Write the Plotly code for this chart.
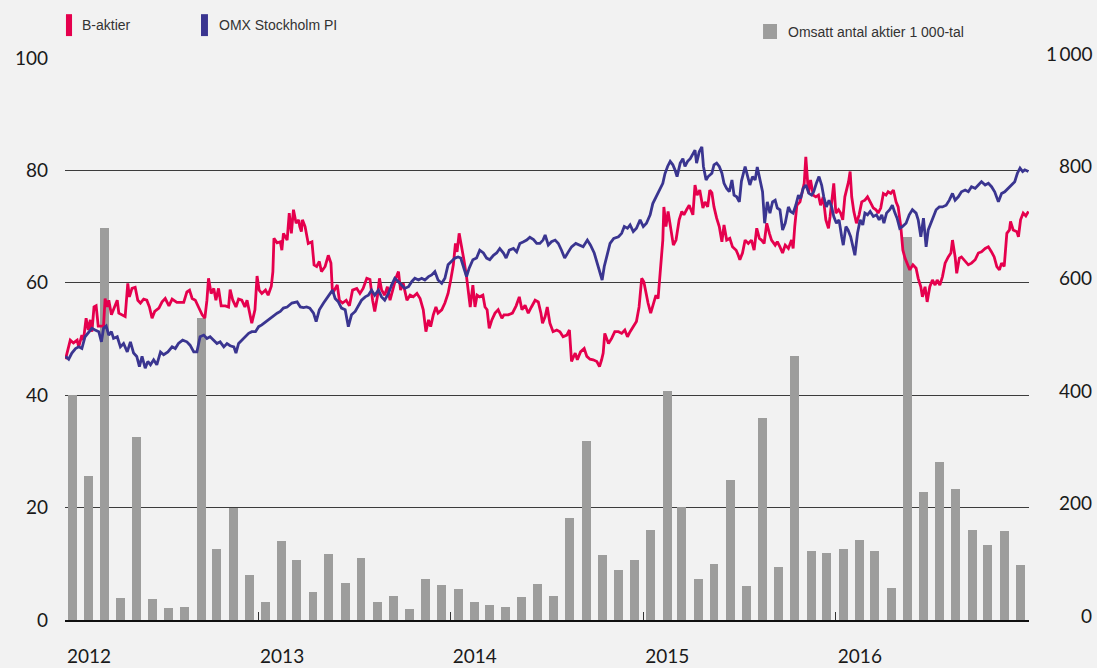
import pandas as pd
import plotly.graph_objects as go

START = "2012-01-01"

# ---- B-aktier (days since START, index value) ----
red_days = [
    1, 7, 10, 16, 23, 26, 32, 35, 40, 44,
    48, 51, 55, 59, 63, 73, 76, 80, 83, 88,
    92, 99, 102, 108, 114, 119, 122, 127, 133, 138,
    143, 149, 155, 160, 165, 170, 178, 184, 190, 197,
    203, 212, 225, 231, 236, 241, 247, 253, 260, 265,
    269, 272, 277, 282, 286, 291, 296, 304, 310, 313,
    318, 324, 329, 335, 341, 345, 349, 354, 360, 364,
    368, 373, 380, 385, 391, 394, 396, 402, 408, 411,
    414, 421, 425, 429, 433, 438, 443, 445, 448, 450,
    455, 461, 468, 472, 477, 482, 486, 493, 499, 504,
    507, 512, 516, 520, 526, 533, 539, 545, 553, 559,
    565, 572, 578, 583, 587, 592, 596, 600, 606, 611,
    616, 622, 627, 632, 636, 641, 648, 654, 660, 667,
    673, 679, 684, 689, 693, 698, 703, 707, 714, 720,
    726, 731, 736, 740, 743, 747, 752, 756, 761, 764,
    768, 773, 777, 781, 786, 792, 796, 800, 804, 809,
    815, 821, 828, 832, 840, 848, 855, 861, 866, 872,
    878, 884, 891, 897, 902, 905, 910, 914, 919, 925,
    932, 938, 944, 951, 956, 960, 967, 971, 977, 984,
    989, 995, 1001, 1008, 1013, 1017, 1020, 1023, 1030, 1036,
    1042, 1049, 1055, 1061, 1066, 1071, 1077, 1083, 1088, 1093,
    1097, 1101, 1105, 1110, 1115, 1120, 1124, 1129, 1133, 1135,
    1139, 1143, 1148, 1153, 1158, 1164, 1169, 1173, 1178, 1183,
    1190, 1194, 1198, 1203, 1209, 1213, 1218, 1222, 1226, 1230,
    1235, 1240, 1245, 1249, 1254, 1260, 1265, 1272, 1276, 1279,
    1284, 1289, 1295, 1301, 1306, 1311, 1316, 1320, 1325, 1330,
    1335, 1339, 1346, 1350, 1355, 1360, 1365, 1371, 1377, 1380,
    1383, 1387, 1393, 1396, 1401, 1404, 1409, 1413, 1418, 1423,
    1428, 1432, 1437, 1442, 1447, 1450, 1455, 1457, 1461, 1466,
    1470, 1474, 1478, 1481, 1485, 1488, 1491, 1495, 1500, 1505,
    1510, 1516, 1521, 1526, 1532, 1537, 1541, 1546, 1551, 1556,
    1560, 1565, 1570, 1575, 1579, 1584, 1588, 1592, 1596, 1601,
    1607, 1613, 1617, 1622, 1625, 1630, 1634, 1639, 1644, 1649,
    1653, 1658, 1663, 1668, 1674, 1679, 1682, 1687, 1690, 1695,
    1699, 1706, 1712, 1718, 1725, 1731, 1737, 1744, 1750, 1756,
    1761, 1766, 1771, 1775, 1780, 1785, 1790, 1792, 1797, 1804,
    1807, 1811, 1816, 1821, 1826,
]
red_vals = [
    46.4, 48.6, 49.8, 49.3, 49.8, 48.6, 50.7, 49.8, 53.7, 51.6,
    53.4, 51.3, 55.7, 55.9, 52.3, 52.3, 57.2, 55.7, 56.9, 54.3,
    55.2, 56.9, 54.6, 54.3, 54.0, 59.9, 57.5, 59.0, 59.2, 56.9,
    56.4, 57.1, 56.9, 55.7, 53.7, 54.9, 55.5, 56.6, 57.2, 55.9,
    57.1, 56.5, 56.5, 58.4, 58.7, 57.2, 56.9, 55.7, 54.3, 53.7,
    56.9, 60.8, 58.1, 59.0, 56.9, 59.0, 55.9, 55.9, 55.7, 58.8,
    56.9, 55.7, 57.1, 56.9, 55.7, 56.9, 54.9, 52.8, 55.2, 61.2,
    58.7, 58.1, 58.7, 57.8, 59.4, 62.0, 67.9, 67.1, 67.3, 65.8,
    68.8, 67.6, 72.4, 68.8, 73.0, 70.6, 71.2, 70.0, 69.1, 71.2,
    70.0, 67.0, 67.3, 63.2, 62.9, 63.8, 62.0, 62.9, 64.9, 63.5,
    58.1, 59.0, 59.6, 56.9, 56.4, 56.9, 55.9, 58.7, 59.0, 58.1,
    59.0, 60.8, 60.6, 56.9, 54.9, 57.5, 60.8, 58.7, 57.8, 59.3,
    56.9, 59.0, 60.8, 62.0, 58.7, 59.9, 56.9, 57.8, 57.5, 58.1,
    57.2, 55.2, 51.3, 53.4, 52.2, 54.3, 55.7, 54.6, 55.2, 56.4,
    58.1, 60.5, 63.2, 67.0, 65.5, 68.8, 66.4, 64.1, 61.1, 58.4,
    55.7, 59.6, 55.7, 57.8, 57.5, 57.8, 55.7, 55.2, 51.9, 53.4,
    54.6, 55.2, 53.7, 54.3, 54.3, 54.6, 55.9, 57.5, 55.2, 56.0,
    54.6, 55.7, 56.9, 56.6, 54.6, 52.8, 54.0, 55.7, 52.8, 51.3,
    51.6, 51.3, 50.4, 50.7, 51.6, 46.0, 47.5, 46.3, 47.7, 48.3,
    46.9, 46.4, 46.3, 46.0, 45.1, 46.3, 47.5, 51.0, 49.2, 50.1,
    51.3, 51.3, 51.0, 51.6, 50.4, 51.3, 52.2, 53.1, 55.7, 60.8,
    60.2, 58.1, 56.4, 54.6, 56.4, 57.8, 57.2, 62.3, 67.6, 73.5,
    70.0, 72.7, 69.4, 66.7, 67.6, 71.2, 72.7, 72.1, 73.0, 73.8,
    72.1, 77.4, 75.6, 76.5, 73.3, 74.4, 73.5, 76.5, 76.0, 73.5,
    71.5, 70.0, 67.3, 70.3, 67.6, 67.9, 66.4, 65.8, 64.9, 64.1,
    65.3, 67.6, 67.0, 67.6, 65.8, 69.7, 67.9, 67.6, 67.0, 70.6,
    68.8, 67.6, 66.7, 67.3, 66.4, 65.3, 66.7, 66.1, 67.6, 66.1,
    70.0, 73.8, 74.4, 75.6, 77.7, 82.4, 75.9, 78.3, 75.6, 75.3,
    75.6, 73.8, 75.3, 71.2, 69.7, 71.8, 76.2, 77.7, 72.4, 73.0,
    72.4, 71.2, 75.3, 76.5, 78.0, 79.8, 75.3, 72.7, 70.6, 72.1,
    74.4, 74.7, 75.3, 74.4, 73.3, 73.0, 72.4, 73.3, 75.9, 75.6,
    76.2, 75.9, 76.5, 74.4, 73.5, 70.0, 65.8, 64.4, 63.5, 62.3,
    63.2, 62.6, 60.8, 59.3, 57.5, 59.3, 56.6, 59.3, 60.5, 59.6,
    60.5, 59.6, 61.1, 63.5, 64.6, 65.3, 67.6, 64.6, 61.7, 64.4,
    64.6, 63.8, 63.2, 63.5, 64.1, 65.3, 65.5, 66.1, 66.4, 65.5,
    64.6, 62.9, 62.3, 63.5, 62.9, 68.8, 69.4, 70.9, 69.4, 69.1,
    68.2, 71.2, 72.4, 71.9, 72.7,
]

# ---- OMX Stockholm PI (days since START, index value) ----
blue_days = [
    1, 7, 13, 20, 26, 32, 38, 45, 51, 57,
    64, 69, 73, 78, 83, 88, 92, 99, 105, 111,
    118, 124, 130, 136, 141, 146, 152, 157, 162, 168,
    174, 181, 187, 195, 203, 209, 215, 223, 231, 237,
    244, 250, 256, 263, 269, 275, 282, 288, 294, 301,
    307, 313, 320, 324, 329, 339, 348, 354, 361, 367,
    373, 381, 389, 396, 402, 408, 414, 421, 430, 440,
    446, 452, 458, 464, 471, 476, 482, 490, 496, 502,
    507, 512, 518, 524, 531, 537, 543, 550, 556, 562,
    569, 575, 581, 587, 594, 600, 606, 613, 619, 625,
    632, 638, 644, 651, 657, 663, 670, 676, 682, 689,
    695, 701, 707, 714, 720, 726, 733, 739, 745, 750,
    755, 761, 766, 773, 780, 786, 793, 799, 805, 812,
    818, 824, 831, 836, 842, 850, 856, 862, 869, 875,
    881, 888, 894, 900, 906, 910, 916, 922, 929, 935,
    941, 947, 954, 960, 968, 976, 982, 990, 996, 1003,
    1009, 1014, 1018, 1022, 1027, 1033, 1040, 1049, 1055, 1060,
    1066, 1071, 1077, 1083, 1090, 1096, 1102, 1109, 1114, 1120,
    1126, 1133, 1137, 1142, 1147, 1152, 1156, 1160, 1166, 1171,
    1175, 1180, 1185, 1190, 1194, 1197, 1202, 1207, 1210, 1215,
    1219, 1226, 1230, 1235, 1240, 1245, 1249, 1254, 1259, 1264,
    1268, 1273, 1278, 1282, 1289, 1293, 1298, 1303, 1308, 1312,
    1317, 1322, 1326, 1331, 1336, 1341, 1346, 1350, 1355, 1360,
    1365, 1371, 1375, 1380, 1385, 1390, 1394, 1399, 1404, 1410,
    1415, 1419, 1424, 1429, 1434, 1438, 1443, 1448, 1453, 1457,
    1462, 1467, 1472, 1475, 1480, 1484, 1489, 1493, 1497, 1502,
    1507, 1512, 1516, 1521, 1526, 1532, 1538, 1543, 1548, 1552,
    1557, 1563, 1568, 1573, 1577, 1582, 1587, 1594, 1600, 1606,
    1613, 1617, 1622, 1627, 1632, 1636, 1641, 1646, 1651, 1657,
    1663, 1670, 1676, 1682, 1687, 1693, 1699, 1706, 1712, 1718,
    1725, 1731, 1737, 1744, 1750, 1756, 1762, 1769, 1775, 1781,
    1788, 1794, 1800, 1805, 1810, 1815, 1819, 1826,
]
blue_vals = [
    46.9, 46.4, 47.5, 48.3, 48.6, 48.3, 50.4, 51.3, 51.9, 51.6,
    51.3, 49.5, 51.9, 52.3, 50.7, 51.3, 50.1, 50.4, 48.6, 49.2,
    47.7, 49.5, 47.5, 46.9, 45.1, 46.9, 44.8, 46.0, 45.4, 46.3,
    45.4, 47.7, 47.2, 47.7, 48.6, 48.3, 49.2, 49.8, 49.5, 48.9,
    47.7, 47.7, 50.4, 50.7, 50.1, 50.4, 49.8, 49.2, 49.5, 48.6,
    49.2, 48.8, 48.6, 47.5, 49.2, 50.1, 51.0, 51.3, 51.3, 52.2,
    52.5, 53.1, 53.7, 54.3, 54.6, 54.9, 55.5, 55.7, 56.4, 56.6,
    55.7, 55.6, 55.7, 55.5, 54.6, 53.1, 55.2, 56.4, 57.2, 58.1,
    58.7, 57.2, 56.6, 55.5, 55.2, 52.2, 54.3, 54.9, 56.0, 56.9,
    57.5, 57.8, 58.7, 57.8, 58.7, 57.5, 56.9, 58.1, 59.6, 60.8,
    60.2, 59.6, 59.0, 59.3, 60.2, 60.8, 60.5, 60.8, 60.5, 61.1,
    61.4, 62.0, 60.5, 59.9, 60.8, 63.2, 63.8, 64.4, 64.6, 64.4,
    62.9, 61.1, 62.6, 64.1, 64.4, 65.8, 65.3, 64.4, 64.1, 64.9,
    65.3, 66.1, 65.3, 64.4, 65.8, 66.1, 65.5, 67.0, 67.3, 67.6,
    68.1, 67.7, 67.0, 67.0, 67.6, 68.5, 66.7, 67.3, 67.6, 67.0,
    65.8, 64.4, 65.5, 66.4, 67.0, 66.7, 66.4, 67.6, 66.7, 65.3,
    63.5, 61.7, 60.5, 62.9, 64.9, 67.0, 67.9, 68.2, 68.8, 70.0,
    69.7, 70.3, 69.1, 69.7, 71.2, 70.0, 70.6, 72.1, 74.1, 75.3,
    76.5, 77.7, 79.4, 80.7, 81.6, 81.0, 80.1, 78.9, 81.3, 82.1,
    80.7, 81.6, 82.1, 83.0, 83.6, 81.3, 83.3, 84.2, 80.7, 78.3,
    78.9, 79.5, 81.0, 81.3, 80.7, 79.5, 77.7, 76.8, 76.2, 78.3,
    75.6, 75.3, 74.4, 78.1, 80.7, 79.2, 77.4, 78.9, 78.3, 80.6,
    78.3, 76.2, 70.6, 74.4, 72.4, 74.4, 74.7, 73.3, 73.0, 69.4,
    70.6, 73.5, 72.7, 72.4, 73.8, 75.6, 75.0, 76.8, 77.4, 75.9,
    75.6, 76.2, 77.7, 78.9, 77.4, 75.3, 73.5, 74.7, 73.5, 71.8,
    70.6, 71.2, 68.2, 66.7, 70.0, 69.4, 68.2, 66.7, 64.9, 68.8,
    71.2, 70.3, 72.4, 72.1, 72.7, 71.8, 72.1, 71.2, 72.1, 70.6,
    72.4, 73.0, 73.8, 72.4, 71.5, 69.7, 70.0, 70.6, 72.1, 73.0,
    72.4, 71.2, 68.2, 71.5, 66.4, 69.4, 70.6, 71.5, 73.0, 73.5,
    73.5, 73.8, 74.7, 75.9, 74.7, 75.3, 76.2, 76.5, 76.2, 77.1,
    76.8, 77.4, 78.0, 77.4, 77.7, 77.1, 76.2, 74.4, 75.9, 76.2,
    76.8, 77.4, 78.0, 79.5, 80.4, 79.8, 80.1, 79.8,
]

# ---- Omsatt antal aktier, 1 000-tal (monthly, Jan 2012 - Dec 2016) ----
volume = [
    400, 256, 698, 40, 326, 38, 21, 23, 537, 126, 200, 80,
    32, 141, 106, 49, 117, 65, 111, 32, 43, 19, 73, 62,
    56, 32, 26, 24, 41, 64, 43, 182, 318, 115, 89, 107,
    160, 407, 201, 73, 100, 249, 61, 360, 94, 470, 123, 119,
    126, 142, 123, 57, 682, 227, 281, 233, 160, 134, 159, 98,
]

year_ticks = ["2012-01-01", "2013-01-01", "2014-01-01", "2015-01-01", "2016-01-01"]
year_labels = ["2012", "2013", "2014", "2015", "2016"]
left_ticks = [0, 20, 40, 60, 80, 100]
right_ticks = [0, 200, 400, 600, 800, 1000]

start = pd.Timestamp(START)
red_x = [start + pd.Timedelta(days=d) for d in red_days]
blue_x = [start + pd.Timedelta(days=d) for d in blue_days]
bar_x = pd.date_range(START, periods=len(volume), freq="MS") + pd.Timedelta(days=14)

RED = "#E5004D"
BLUE = "#3A3590"
GREY = "#9D9D9C"
BG = "#F2F2F2"
NUMFONT = dict(family="Lato", size=19, color="#1A1A1A")
LEGFONT = dict(family="Liberation Sans", size=14, color="#333333")

fig = go.Figure()
fig.add_trace(go.Bar(x=bar_x, y=volume, marker=dict(color=GREY, line=dict(width=0)),
                     width=17 * 86400000, yaxis="y", name="Omsatt antal aktier 1 000-tal"))
fig.add_trace(go.Scatter(x=red_x, y=red_vals, mode="lines", yaxis="y2",
                         line=dict(color=RED, width=2.8), name="B-aktier"))
fig.add_trace(go.Scatter(x=blue_x, y=blue_vals, mode="lines", yaxis="y2",
                         line=dict(color=BLUE, width=2.8), name="OMX Stockholm PI"))

shapes = [
    dict(type="rect", xref="paper", yref="paper", x0=0.001, x1=0.0073, y0=1.039, y1=1.078,
         fillcolor=RED, line=dict(width=0)),
    dict(type="rect", xref="paper", yref="paper", x0=0.1411, x1=0.1483, y0=1.039, y1=1.078,
         fillcolor=BLUE, line=dict(width=0)),
    dict(type="rect", xref="paper", yref="paper", x0=0.7241, x1=0.7386, y0=1.0338, y1=1.0605,
         fillcolor=GREY, line=dict(width=0)),
]
annotations = [
    dict(text="B-aktier", xref="paper", yref="paper", x=0.0156, y=1.0587,
         xanchor="left", yanchor="middle", showarrow=False, font=LEGFONT),
    dict(text="OMX Stockholm PI", xref="paper", yref="paper", x=0.1577, y=1.0587,
         xanchor="left", yanchor="middle", showarrow=False, font=LEGFONT),
    dict(text="Omsatt antal aktier 1 000-tal", xref="paper", yref="paper", x=0.748, y=1.0463,
         xanchor="left", yanchor="middle", showarrow=False, font=LEGFONT),
]
for v in right_ticks:
    annotations.append(dict(text=f"{v:,}".replace(",", "\u2009"), xref="paper", yref="y",
                            x=1.0674, y=v, xanchor="right", yanchor="middle", yshift=5,
                            showarrow=False, font=NUMFONT))

fig.update_layout(
    width=1097, height=668,
    margin=dict(l=65, r=68, t=58, b=48),
    paper_bgcolor=BG, plot_bgcolor=BG,
    showlegend=False,
    bargap=0,
    shapes=shapes,
    annotations=annotations,
    xaxis=dict(type="date", range=["2012-01-01", "2017-01-01"], automargin=False,
               tickvals=year_ticks, ticktext=year_labels,
               ticks="inside", ticklen=8, tickwidth=1, tickcolor="#333333",
               showgrid=False, zeroline=False,
               showline=True, linecolor="#111111", linewidth=2,
               ticklabelshift=24, ticklabelstandoff=18, tickfont=NUMFONT),
    yaxis=dict(range=[0, 1000], showticklabels=False, showgrid=False, zeroline=False,
               ticks="", automargin=False),
    yaxis2=dict(range=[0, 100], overlaying="y", side="left", tickvals=left_ticks,
                showgrid=True, gridcolor="#3C3C3C", gridwidth=1, zeroline=False,
                automargin=False,
                ticks="", ticklabelstandoff=16, tickfont=NUMFONT),
)

fig.write_html("out.html")
